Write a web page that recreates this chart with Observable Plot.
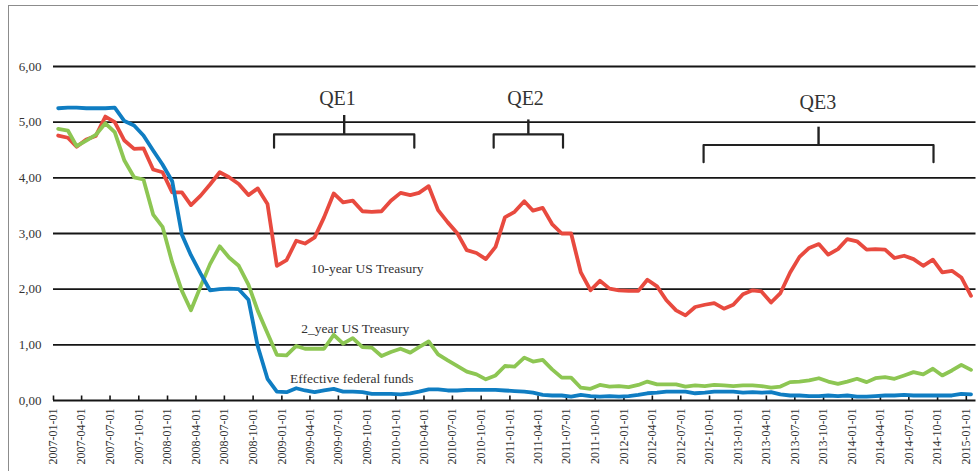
<!DOCTYPE html>
<html>
<head>
<meta charset="utf-8">
<script src="https://cdn.jsdelivr.net/npm/d3@7"></script>
<script src="https://cdn.jsdelivr.net/npm/@observablehq/plot@0.6"></script>
<style>
  body { margin: 0; background: #fff; }
  #wrap { position: relative; width: 978px; height: 471px; overflow: hidden; }
  #frame { position: absolute; left: 8px; top: 5px; right: -10px; bottom: -10px;
           border-left: 1.5px solid #8c8c8c; border-top: 1.5px solid #8c8c8c; pointer-events: none; }
  svg { display: block; }
</style>
</head>
<body>
<div id="wrap"><div id="frame"></div></div>
<script>
// ---- Data (monthly, 2007-01 .. 2015-01) ----
const tenYear = [
  4.76,4.72,4.56,4.69,4.75,5.10,5.00,4.67,4.52,4.53,4.15,4.10,
  3.74,3.74,3.51,3.68,3.88,4.10,4.01,3.89,3.69,3.81,3.53,2.42,
  2.52,2.87,2.82,2.93,3.29,3.72,3.56,3.59,3.40,3.39,3.40,3.59,
  3.73,3.69,3.73,3.85,3.42,3.20,3.01,2.70,2.65,2.54,2.76,3.29,
  3.39,3.58,3.41,3.46,3.17,3.00,3.00,2.30,1.98,2.15,2.01,1.98,
  1.97,1.97,2.17,2.05,1.80,1.62,1.53,1.68,1.72,1.75,1.65,1.72,
  1.91,1.98,1.96,1.76,1.93,2.30,2.58,2.74,2.81,2.62,2.72,2.90,
  2.86,2.71,2.72,2.71,2.56,2.60,2.54,2.42,2.53,2.30,2.33,2.21,
  1.88
];
const twoYear = [
  4.88,4.85,4.57,4.67,4.77,4.98,4.82,4.31,4.01,3.97,3.34,3.12,
  2.48,1.97,1.62,2.05,2.45,2.77,2.57,2.42,2.08,1.61,1.21,0.82,
  0.81,0.98,0.93,0.93,0.93,1.18,1.02,1.12,0.96,0.95,0.80,0.87,
  0.93,0.86,0.96,1.06,0.83,0.72,0.62,0.52,0.47,0.38,0.45,0.62,
  0.61,0.77,0.70,0.73,0.56,0.41,0.41,0.23,0.21,0.28,0.25,0.26,
  0.24,0.28,0.34,0.29,0.29,0.29,0.25,0.27,0.26,0.28,0.27,0.26,
  0.27,0.27,0.26,0.23,0.25,0.33,0.34,0.36,0.40,0.34,0.30,0.34,
  0.39,0.33,0.40,0.42,0.39,0.45,0.51,0.47,0.57,0.45,0.54,0.64,
  0.55
];
const fedFunds = [
  5.25,5.26,5.26,5.25,5.25,5.25,5.26,5.02,4.94,4.76,4.49,4.24,
  3.94,2.98,2.61,2.28,1.98,2.00,2.01,2.00,1.81,0.97,0.39,0.16,
  0.15,0.22,0.18,0.15,0.18,0.21,0.16,0.16,0.15,0.12,0.12,0.12,
  0.11,0.13,0.16,0.20,0.20,0.18,0.18,0.19,0.19,0.19,0.19,0.18,
  0.17,0.16,0.14,0.10,0.09,0.09,0.07,0.10,0.08,0.07,0.08,0.07,
  0.08,0.10,0.13,0.14,0.16,0.16,0.16,0.13,0.14,0.16,0.16,0.16,
  0.14,0.15,0.14,0.15,0.11,0.09,0.09,0.08,0.08,0.09,0.08,0.09,
  0.07,0.07,0.08,0.09,0.09,0.10,0.09,0.09,0.09,0.09,0.09,0.12,
  0.11
];
const startMonth = "2007-01-01";
const endMonth = "2015-02-01";
const yTicks = [0, 1, 2, 3, 4, 5, 6];

const seriesNames = ["10-year US Treasury", "2_year US Treasury", "Effective federal funds"];
const seriesLabelDates = ["2009-10-01", "2009-08-24", "2009-08-13"];
const seriesLabelValues = [2.37, 1.29, 0.395];

const qeLabels = ["QE1", "QE2", "QE3"];
const qeStart = ["2008-12-07", "2010-11-10", "2012-09-12"];
const qeEnd = ["2010-03-01", "2011-06-20", "2014-09-18"];
const qeLabelDates = ["2009-06-28", "2011-02-20", "2013-09-13"];

// ---- Layout / style ----
const W = 978, H = 471, mL = 53, mR = 2.5, mT = 66, mB = 71;
const colors = ["#e84a3f", "#8dc653", "#0f7dc2"];
const bracketLevels = [
  {foot: 4.54, bar: 4.78, top: 5.12, text: 5.42},
  {foot: 4.54, bar: 4.78, top: 5.04, text: 5.42},
  {foot: 4.28, bar: 4.59, top: 4.91, text: 5.36}
];

const months = d3.utcMonth.range(new Date(startMonth), new Date(endMonth));
const tickDates = d3.utcMonth.every(3).range(new Date(startMonth), new Date(endMonth));
const mid = d => d3.utcDay.offset(d, 15);
const toRows = vals => months.map((m, i) => ({date: mid(m), value: vals[i]}));
const seriesValues = [tenYear, twoYear, fedFunds];

const qe = qeLabels.map((label, i) => {
  const s = new Date(qeStart[i]), e = new Date(qeEnd[i]);
  return {label, s, e, m: new Date((+s + +e) / 2), t: new Date(qeLabelDates[i]), ...bracketLevels[i]};
});
const bracketPts = qe.flatMap(q => [
  {label: q.label, x: q.s, y: q.foot},
  {label: q.label, x: q.s, y: q.bar},
  {label: q.label, x: q.e, y: q.bar},
  {label: q.label, x: q.e, y: q.foot}
]);

const fmtY = d => d3.format(".2f")(d).replace(".", ",");
const font = "'Liberation Serif', 'Times New Roman', serif";

const chart = Plot.plot({
  width: W, height: H,
  marginLeft: mL, marginRight: mR, marginTop: mT, marginBottom: mB,
  style: {fontFamily: font, background: "transparent", overflow: "visible"},
  x: {type: "utc", domain: [new Date(startMonth), new Date(endMonth)]},
  y: {domain: [0, 6]},
  marks: [
    Plot.ruleY(yTicks.filter(d => d > 0), {stroke: "#151515", strokeWidth: 1.8}),
    Plot.axisY({ticks: yTicks, tickSize: 0, tickPadding: 12, tickFormat: fmtY,
                fontSize: 13, fill: "#333", label: null}),
    Plot.axisX({ticks: tickDates, tickSize: 0, tickPadding: 8, tickRotate: -90,
                tickFormat: d3.utcFormat("%Y-%m-%d"), fontSize: 12, fill: "#333", label: null}),
    Plot.tickX(tickDates, {x: d => d, insetTop: (H - mT - mB) - 4.5, stroke: "#151515", strokeWidth: 1.6}),
    Plot.ruleY([0], {stroke: "#151515", strokeWidth: 2.2}),
    // QE brackets
    Plot.line(bracketPts, {x: "x", y: "y", z: "label", stroke: "#222", strokeWidth: 2.2, strokeLinejoin: "round"}),
    Plot.ruleX(qe, {x: "m", y1: "bar", y2: "top", stroke: "#222", strokeWidth: 2.4}),
    Plot.text(qe, {x: "t", y: "text", text: "label", fontSize: 20, fill: "#333"}),
    // series lines
    ...seriesValues.map((vals, i) =>
      Plot.line(toRows(vals), {x: "date", y: "value", stroke: colors[i], strokeWidth: 3.8,
                               strokeLinejoin: "round", strokeLinecap: "round"})),
    // series labels
    Plot.text(seriesNames.map((n, i) => ({n, x: new Date(seriesLabelDates[i]), y: seriesLabelValues[i]})),
      {x: "x", y: "y", text: "n", fontSize: 13.5, fill: "#333"})
  ]
});
const wrap = document.getElementById("wrap");
wrap.insertBefore(chart, wrap.firstChild);
</script>
</body>
</html>
